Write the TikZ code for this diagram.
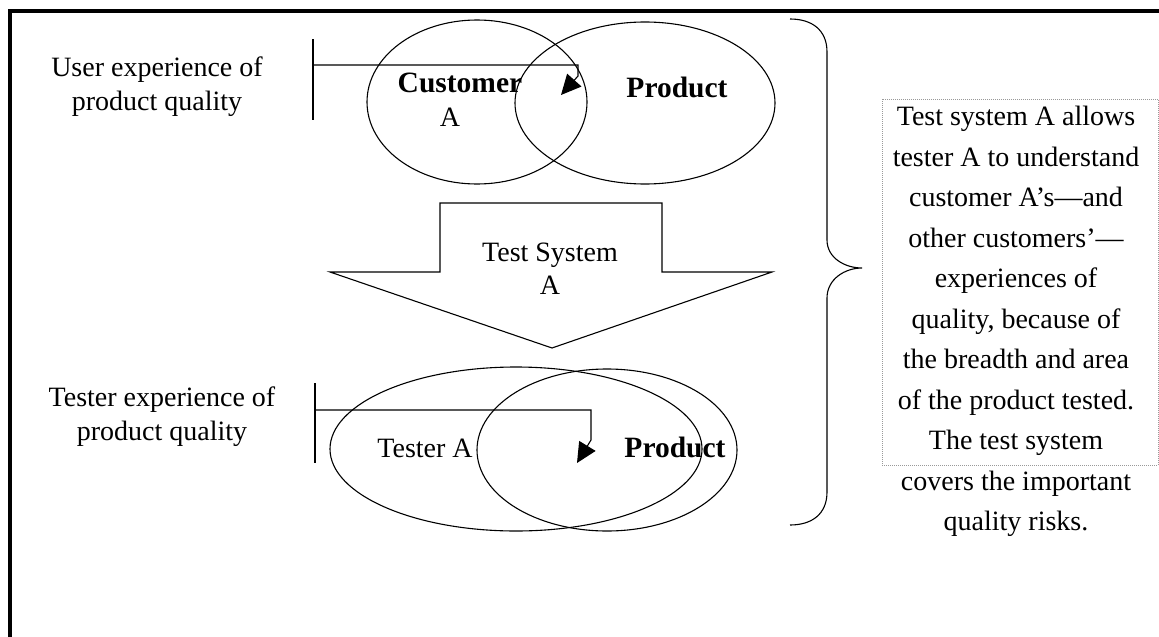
\documentclass[tikz,border=0pt]{standalone}
\usepackage{fontspec}
\setmainfont{Liberation Serif}
\usetikzlibrary{arrows.meta,shapes.geometric}
\begin{document}
\begin{tikzpicture}[x=1pt,y=-1pt,
  line/.style={line width=1.1pt,line join=miter},
  oval/.style={draw,ellipse,line width=1.1pt,inner sep=0pt},
  lbl/.style={font=\fontsize{28}{34}\selectfont,inner sep=0pt},
  blbl/.style={font=\fontsize{29.5}{34}\selectfont\bfseries,inner sep=0pt},
  conn/.style={line width=1.1pt,-{Triangle[length=20pt,width=19pt]}},
]
\useasboundingbox (0,0) rectangle (1159,637);
\fill[white] (0,0) rectangle (1159,637);
% frame
\fill (8,9) rectangle (1159,13);
\fill (8,9) rectangle (12,637);

% ---- top: customer / product
\node[oval,minimum width=220pt,minimum height=164pt] (cust) at (477,102) {};
\node[oval,minimum width=260pt,minimum height=162pt] (prod1) at (645,103) {};
\node[blbl,anchor=base] (custlbl) at (460,92) {Customer};
\node[lbl,anchor=base] (custA) at (450,126) {A};
\node[blbl,anchor=base] (prod1lbl) at (677,97) {Product};
\node[lbl,align=center,anchor=north] (user) at (157,57) {User experience of\\product quality};

\coordinate (ubt) at (313,39);
\coordinate (ubb) at (313,120);
\draw[line] (ubt) -- (ubb);
\coordinate (ustart) at (313,65);
\coordinate (ucorner) at (578,65);
\coordinate (ubend) at (578,76);
\coordinate (utip) at (561,95);
\draw[conn] (ustart) -- (ucorner) -- (ubend) -- (utip);

% ---- test system block arrow
\draw[line] (440,203) -- (662,203) -- (662,272) -- (772,272) -- (552,348)
  -- (330,272) -- (440,272) -- cycle;
\node[lbl,align=center,anchor=north,font=\fontsize{28}{33}\selectfont] (ts) at (550,243) {Test System\\A};

% ---- bottom: tester / product
\node[oval,minimum width=372pt,minimum height=164pt] (testerov) at (516,449) {};
\node[oval,minimum width=260pt,minimum height=162pt] (prod2) at (607,450) {};
\node[lbl,anchor=base] (testerlbl) at (425,457) {Tester A};
\node[blbl,anchor=base] (prod2lbl) at (675,457) {Product};
\node[lbl,align=center,anchor=north] (testertext) at (162,387) {Tester experience of\\product quality};

\coordinate (tbt) at (315,383);
\coordinate (tbb) at (315,463);
\draw[line] (tbt) -- (tbb);
\coordinate (tstart) at (315,410);
\coordinate (tcorner) at (591,410);
\coordinate (tbend) at (591,440);
\coordinate (ttip) at (577,463);
\draw[conn] (tstart) -- (tcorner) -- (tbend) -- (ttip);

% ---- brace
\draw[line] (790,19) .. controls (812,19) and (827,30) .. (827,52)
  -- (827,240) .. controls (827,258) and (845,268) .. (862,268)
  .. controls (845,268) and (827,279) .. (827,298)
  -- (827,492) .. controls (827,514) and (812,525) .. (790,525);

% ---- note
\draw[gray!80,line width=1pt,dash pattern=on 1pt off 1pt] (882,99) rectangle (1158,465);
\node[lbl,align=center,anchor=north,font=\fontsize{28}{40.5}\selectfont] (note) at (1016,106)
 {Test system A allows\\tester A to understand\\customer A’s—and\\other customers’—\\experiences of\\quality, because of\\the breadth and area\\of the product tested.\\The test system\\covers the important\\quality risks.};
\end{tikzpicture}
\end{document}
